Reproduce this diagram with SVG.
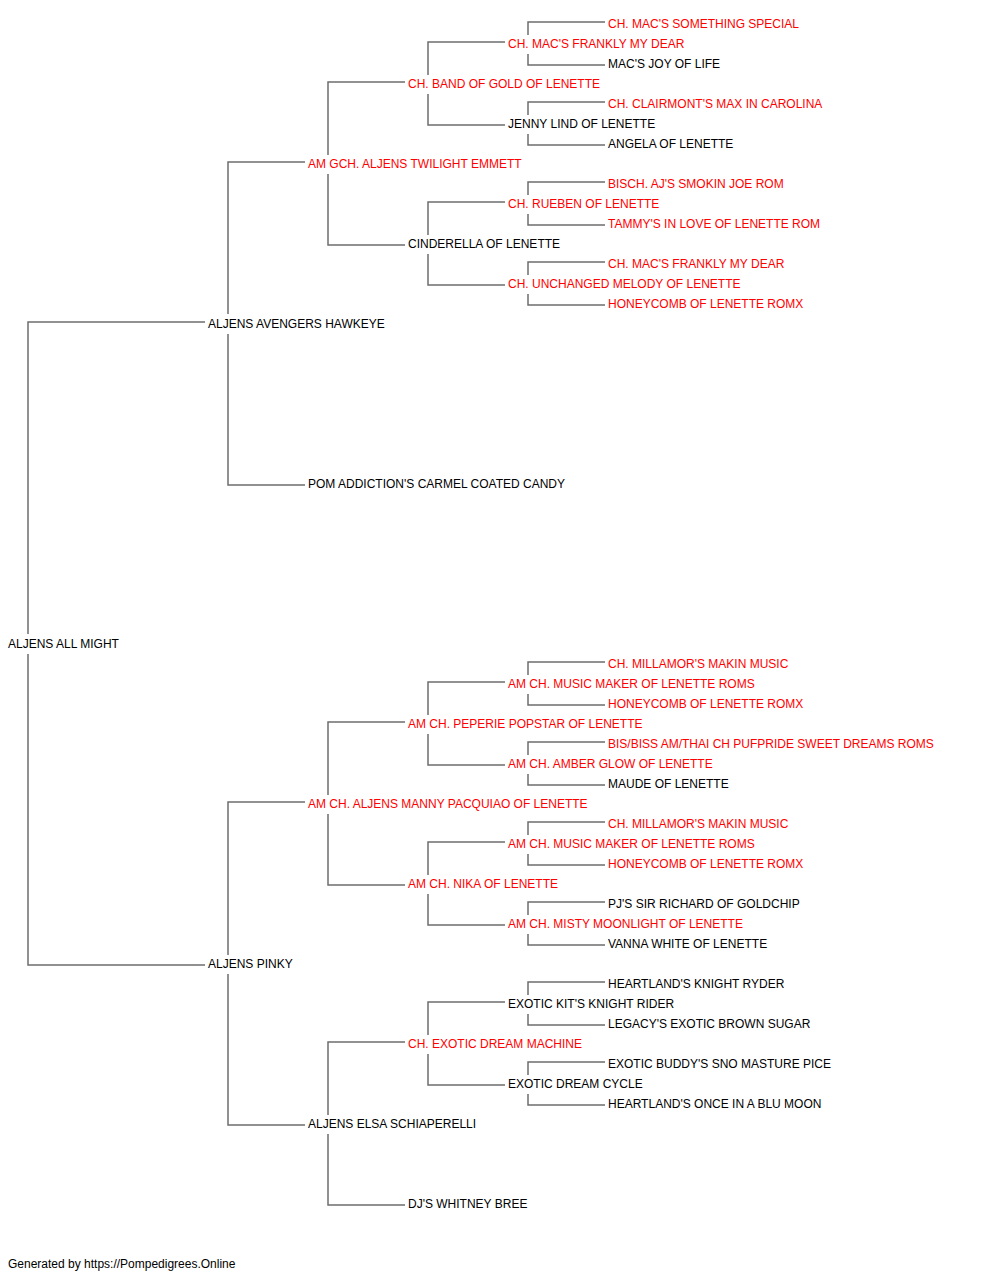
<svg xmlns="http://www.w3.org/2000/svg" width="1000" height="1280" viewBox="0 0 1000 1280">
<style>
text{font-family:"Liberation Sans",Arial,sans-serif;font-size:12px;fill:#000}
.r{fill:#ff0000}
.c path{fill:none;stroke:#6e6e6e;stroke-width:1.5}
</style>
<rect width="1000" height="1280" fill="#fff"/>
<g class="c" id="connectors">
<path d="M205 322H28V634M28 654V965H205"/>
<path d="M305 162H228V314M228 334V485H305"/>
<path d="M405 82H328V155M328 174V245H405"/>
<path d="M505 42H428V75M428 94V125H505"/>
<path d="M605 22H528V35M528 54V65H605"/>
<path d="M605 102H528V115M528 134V145H605"/>
<path d="M505 202H428V235M428 254V285H505"/>
<path d="M605 182H528V195M528 214V225H605"/>
<path d="M605 262H528V275M528 294V305H605"/>
<path d="M305 802H228V955M228 974V1125H305"/>
<path d="M405 722H328V795M328 814V885H405"/>
<path d="M505 682H428V715M428 734V765H505"/>
<path d="M605 662H528V675M528 694V705H605"/>
<path d="M605 742H528V755M528 774V785H605"/>
<path d="M505 842H428V875M428 894V925H505"/>
<path d="M605 822H528V835M528 854V865H605"/>
<path d="M605 902H528V915M528 934V945H605"/>
<path d="M405 1042H328V1115M328 1134V1205H405"/>
<path d="M505 1002H428V1035M428 1054V1085H505"/>
<path d="M605 982H528V995M528 1014V1025H605"/>
<path d="M605 1062H528V1075M528 1094V1105H605"/>
</g>
<g id="n-root"><text x="8" y="648">ALJENS ALL MIGHT</text></g>
<g id="n-s"><text x="208" y="328">ALJENS AVENGERS HAWKEYE</text></g>
<g id="n-ss"><text class="r" x="308" y="168">AM GCH. ALJENS TWILIGHT EMMETT</text></g>
<g id="n-sss"><text class="r" x="408" y="88">CH. BAND OF GOLD OF LENETTE</text></g>
<g id="n-ssss"><text class="r" x="508" y="48">CH. MAC'S FRANKLY MY DEAR</text></g>
<g id="n-sssss"><text class="r" x="608" y="28">CH. MAC'S SOMETHING SPECIAL</text></g>
<g id="n-ssssd"><text x="608" y="68">MAC'S JOY OF LIFE</text></g>
<g id="n-sssd"><text x="508" y="128">JENNY LIND OF LENETTE</text></g>
<g id="n-sssds"><text class="r" x="608" y="108">CH. CLAIRMONT'S MAX IN CAROLINA</text></g>
<g id="n-sssdd"><text x="608" y="148">ANGELA OF LENETTE</text></g>
<g id="n-ssd"><text x="408" y="248">CINDERELLA OF LENETTE</text></g>
<g id="n-ssds"><text class="r" x="508" y="208">CH. RUEBEN OF LENETTE</text></g>
<g id="n-ssdss"><text class="r" x="608" y="188">BISCH. AJ'S SMOKIN JOE ROM</text></g>
<g id="n-ssdsd"><text class="r" x="608" y="228">TAMMY'S IN LOVE OF LENETTE ROM</text></g>
<g id="n-ssdd"><text class="r" x="508" y="288">CH. UNCHANGED MELODY OF LENETTE</text></g>
<g id="n-ssdds"><text class="r" x="608" y="268">CH. MAC'S FRANKLY MY DEAR</text></g>
<g id="n-ssddd"><text class="r" x="608" y="308">HONEYCOMB OF LENETTE ROMX</text></g>
<g id="n-sd"><text x="308" y="488">POM ADDICTION'S CARMEL COATED CANDY</text></g>
<g id="n-d"><text x="208" y="968">ALJENS PINKY</text></g>
<g id="n-ds"><text class="r" x="308" y="808">AM CH. ALJENS MANNY PACQUIAO OF LENETTE</text></g>
<g id="n-dss"><text class="r" x="408" y="728">AM CH. PEPERIE POPSTAR OF LENETTE</text></g>
<g id="n-dsss"><text class="r" x="508" y="688">AM CH. MUSIC MAKER OF LENETTE ROMS</text></g>
<g id="n-dssss"><text class="r" x="608" y="668">CH. MILLAMOR'S MAKIN MUSIC</text></g>
<g id="n-dsssd"><text class="r" x="608" y="708">HONEYCOMB OF LENETTE ROMX</text></g>
<g id="n-dssd"><text class="r" x="508" y="768">AM CH. AMBER GLOW OF LENETTE</text></g>
<g id="n-dssds"><text class="r" x="608" y="748">BIS/BISS AM/THAI CH PUFPRIDE SWEET DREAMS ROMS</text></g>
<g id="n-dssdd"><text x="608" y="788">MAUDE OF LENETTE</text></g>
<g id="n-dsd"><text class="r" x="408" y="888">AM CH. NIKA OF LENETTE</text></g>
<g id="n-dsds"><text class="r" x="508" y="848">AM CH. MUSIC MAKER OF LENETTE ROMS</text></g>
<g id="n-dsdss"><text class="r" x="608" y="828">CH. MILLAMOR'S MAKIN MUSIC</text></g>
<g id="n-dsdsd"><text class="r" x="608" y="868">HONEYCOMB OF LENETTE ROMX</text></g>
<g id="n-dsdd"><text class="r" x="508" y="928">AM CH. MISTY MOONLIGHT OF LENETTE</text></g>
<g id="n-dsdds"><text x="608" y="908">PJ'S SIR RICHARD OF GOLDCHIP</text></g>
<g id="n-dsddd"><text x="608" y="948">VANNA WHITE OF LENETTE</text></g>
<g id="n-dd"><text x="308" y="1128">ALJENS ELSA SCHIAPERELLI</text></g>
<g id="n-dds"><text class="r" x="408" y="1048">CH. EXOTIC DREAM MACHINE</text></g>
<g id="n-ddss"><text x="508" y="1008">EXOTIC KIT'S KNIGHT RIDER</text></g>
<g id="n-ddsss"><text x="608" y="988">HEARTLAND'S KNIGHT RYDER</text></g>
<g id="n-ddssd"><text x="608" y="1028">LEGACY'S EXOTIC BROWN SUGAR</text></g>
<g id="n-ddsd"><text x="508" y="1088">EXOTIC DREAM CYCLE</text></g>
<g id="n-ddsds"><text x="608" y="1068">EXOTIC BUDDY'S SNO MASTURE PICE</text></g>
<g id="n-ddsdd"><text x="608" y="1108">HEARTLAND'S ONCE IN A BLU MOON</text></g>
<g id="n-ddd"><text x="408" y="1208">DJ'S WHITNEY BREE</text></g>
<text x="8" y="1268">Generated by https://Pompedigrees.Online</text>
</svg>
